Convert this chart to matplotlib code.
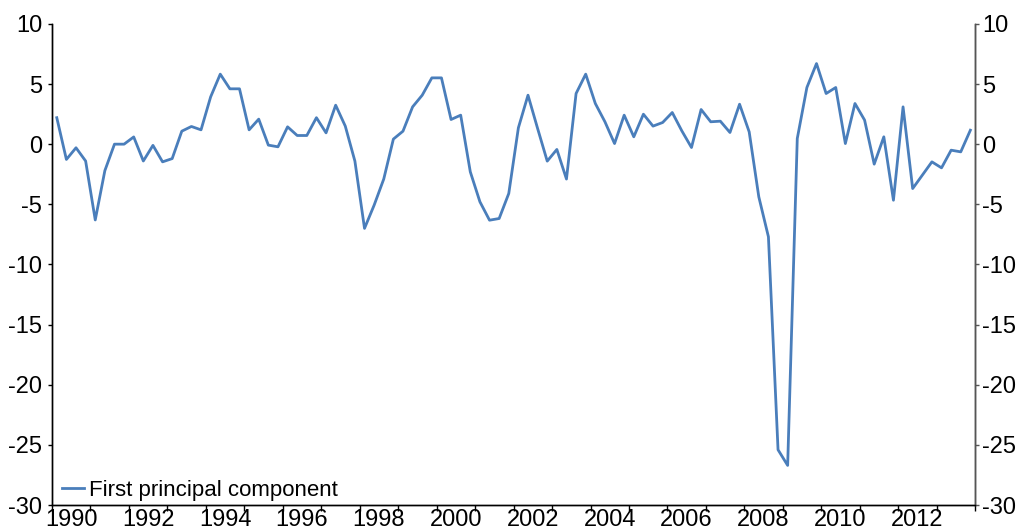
import numpy as np
import matplotlib as mpl
mpl.use('Agg')
import matplotlib.pyplot as plt
from matplotlib.ticker import FixedLocator, NullFormatter

plt.rcParams['font.family'] = ['Liberation Sans', 'DejaVu Sans']

# quarterly values, 1990Q1 .. 2013Q4
start_year = 1990
pc1 = [2.2, -1.27, -0.3, -1.4, -6.3, -2.2, 0.0, 0.0, 0.6, -1.4,
       -0.1, -1.47, -1.2, 1.08, 1.47, 1.19, 3.93, 5.82, 4.6, 4.6,
       1.19, 2.08, -0.08, -0.22, 1.44, 0.72, 0.72, 2.2, 0.94, 3.24,
       1.5, -1.41, -7.0, -5.07, -2.9, 0.42, 1.08, 3.1, 4.07, 5.51,
       5.51, 2.05, 2.41, -2.3, -4.79, -6.32, -6.18, -4.1, 1.36, 4.07,
       1.3, -1.41, -0.44, -2.9, 4.21, 5.82, 3.38, 1.86, 0.05, 2.41,
       0.61, 2.49, 1.5, 1.8, 2.63, 1.1, -0.28, 2.88, 1.86, 1.91,
       0.97, 3.32, 1.02, -4.38, -7.7, -25.4, -26.7, 0.47, 4.71, 6.7,
       4.21, 4.71, 0.05, 3.38, 2.0, -1.66, 0.61, -4.66, 3.1, -3.69,
       -2.58, -1.47, -1.97, -0.5, -0.64, 1.16]
year_labels = list(range(1990, 2013, 2))
y_ticks = [10, 5, 0, -5, -10, -15, -20, -25, -30]

fs = 17
x = start_year + (np.arange(len(pc1)) + 0.5) / 4.0

fig = plt.figure(figsize=(10.19, 5.30), dpi=100)
ax = fig.add_axes([0.051, 0.047, 0.906, 0.908])

ax.plot(x, pc1, color='#4a7ebb', lw=2.0, label='First principal component')

ax.set_xlim(1990, 2014)
ax.set_ylim(-30, 10)
ax.set_yticks(y_ticks)
ax.set_yticklabels([str(v) for v in y_ticks])

# ticks at year boundaries, labels in the middle of even years
ax.xaxis.set_major_locator(FixedLocator(np.arange(1990, 2015)))
ax.xaxis.set_major_formatter(NullFormatter())
ax.xaxis.set_minor_locator(FixedLocator([y + 0.5 for y in year_labels]))
ax.set_xticklabels([str(y) for y in year_labels], minor=True)
ax.tick_params(axis='x', which='major', direction='out', length=4, width=1)
ax.tick_params(axis='x', which='minor', length=0, pad=2.5, labelsize=fs)
ax.tick_params(axis='y', direction='out', length=3, width=1, pad=4, labelsize=fs)

# right hand axis, same scale
ax2 = ax.twinx()
ax2.set_ylim(-30, 10)
ax2.set_yticks(y_ticks)
ax2.set_yticklabels([str(v) for v in y_ticks])
ax2.tick_params(axis='y', direction='out', length=3, width=1, pad=2,
                labelsize=fs, color='#555555')

for a in (ax, ax2):
    a.spines['top'].set_visible(False)
    for s in ['left', 'bottom', 'right']:
        a.spines[s].set_linewidth(1)
ax2.spines['right'].set_color('#555555')

ax.legend(loc='lower left', frameon=False, fontsize=16, handlelength=1.0,
          handletextpad=0.2, borderpad=0, borderaxespad=0,
          bbox_to_anchor=(0.011, 0.008))

fig.savefig('out.png', dpi=100)
